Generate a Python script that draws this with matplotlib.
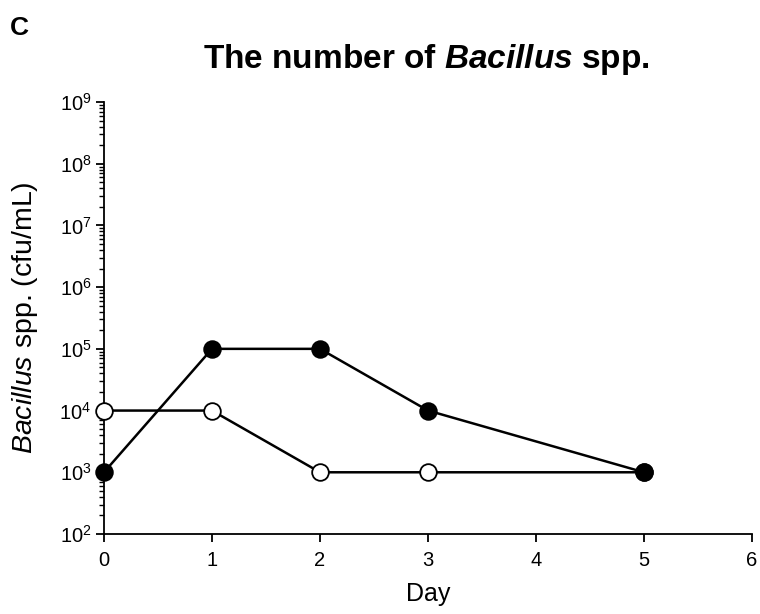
import matplotlib
matplotlib.use("Agg")
import matplotlib.pyplot as plt
from matplotlib.ticker import LogLocator, FixedLocator

plt.rcParams['font.family'] = ['Liberation Sans', 'DejaVu Sans']
plt.rcParams['mathtext.fontset'] = 'custom'
plt.rcParams['mathtext.rm'] = 'Liberation Sans'
plt.rcParams['mathtext.it'] = 'Liberation Sans:italic'
plt.rcParams['mathtext.bf'] = 'Liberation Sans:bold'
plt.rcParams['mathtext.bfit'] = 'Liberation Sans:bold:italic'

days_open = [0, 1, 2, 3, 5]
counts_open = [1e4, 1e4, 1e3, 1e3, 1e3]
days_filled = [0, 1, 2, 3, 5]
counts_filled = [1e3, 1e5, 1e5, 1e4, 1e3]
x_ticks = [0, 1, 2, 3, 4, 5, 6]

fig = plt.figure(figsize=(7.6, 6.14), dpi=100)
ax = fig.add_axes([0.1368, 0.1303, 0.8527, 0.7036])

ax.plot(days_open, counts_open, color='black', lw=1.8, marker='o', ms=12,
        mfc='white', mec='black', mew=1.3, zorder=3, clip_on=False)
ax.plot(days_filled, counts_filled, color='black', lw=1.8, marker='o', ms=12,
        mfc='black', mec='black', mew=1.3, zorder=4, clip_on=False)

ax.set_yscale('log')
ax.set_ylim(1e2, 1e9)
ax.set_xlim(0, 6)
ax.xaxis.set_major_locator(FixedLocator(x_ticks))
ax.yaxis.set_major_locator(LogLocator(base=10, numticks=20))
ax.yaxis.set_minor_locator(LogLocator(base=10, subs=range(2, 10), numticks=20))

for s in ['top', 'right']:
    ax.spines[s].set_visible(False)
for s in ['left', 'bottom']:
    ax.spines[s].set_linewidth(1.3)

ax.tick_params(axis='x', which='major', length=6, width=1.3, labelsize=14.5, pad=6)
ax.tick_params(axis='y', which='major', length=6, width=1.3, labelsize=14.5, pad=3)
ax.tick_params(axis='y', which='minor', length=3.5, width=1.0)

ax.set_xlabel('Day', fontsize=18, labelpad=9)
ax.set_ylabel(r'$\mathit{Bacillus}$ spp. (cfu/mL)', fontsize=20.5, labelpad=14)

fig.text(0.561, 0.889, r'The number of $\mathbfit{Bacillus}$ spp.', fontsize=24,
         fontweight='bold', ha='center', va='baseline')
fig.text(0.013, 0.943, 'C', fontsize=19, fontweight='bold', ha='left', va='baseline')

fig.savefig('out.png', dpi=100)
